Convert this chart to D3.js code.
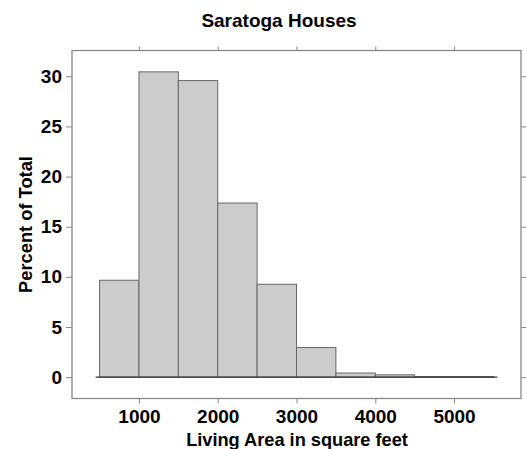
<!DOCTYPE html>
<html>
<head>
<meta charset="utf-8">
<script src="https://cdn.jsdelivr.net/npm/d3@7"></script>
<style>
  body { margin: 0; background: #fff; }
  svg text { font-family: "Liberation Sans", Arial, sans-serif; font-weight: bold; fill: #000; }
</style>
</head>
<body>
<div id="chart"></div>
<script>
const binStarts = [500, 1000, 1500, 2000, 2500, 3000, 3500, 4000, 4500, 5000];
const binWidth = 500;
const percents = [9.66, 30.44, 29.57, 17.36, 9.26, 2.95, 0.41, 0.23, 0.06, 0.06];
const xTicks = [1000, 2000, 3000, 4000, 5000];
const yTicks = [0, 5, 10, 15, 20, 25, 30];

const width = 527;
const height = 449;
const panelLeft = 72, panelRight = 521, panelTop = 50.5, panelBottom = 398.5;

const svg = d3.select('#chart')
    .append('svg')
    .attr('width', width)
    .attr('height', height);

// lattice pads the range by 7% on each side
const xScale = d3.scaleLinear().domain([150, 5850]).range([panelLeft, panelRight]);
const yMax = d3.max(percents);
const yScale = d3.scaleLinear().domain([-0.07 * yMax, yMax * 1.07]).range([panelBottom, panelTop]);

// bars
svg.selectAll('.bar')
    .data(binStarts)
    .enter()
    .append('rect')
    .attr('class', 'bar')
    .attr('x', d => xScale(d))
    .attr('y', (d, i) => yScale(percents[i]))
    .attr('width', d => xScale(d + binWidth) - xScale(d))
    .attr('height', (d, i) => yScale(0) - yScale(percents[i]))
    .attr('fill', '#cccccc')
    .attr('stroke', '#666')
    .attr('stroke-width', 1);

// baseline
svg.append('line')
    .attr('x1', xScale(450)).attr('x2', xScale(5550))
    .attr('y1', yScale(0)).attr('y2', yScale(0))
    .attr('stroke', '#333')
    .attr('stroke-width', 1.2);

// axes on all four sides, labels only bottom and left
const xBottom = d3.axisBottom(xScale).tickValues(xTicks).tickSize(5).tickPadding(6).tickFormat(d3.format('d'));
const xTop = d3.axisTop(xScale).tickValues(xTicks).tickSize(4).tickFormat('');
const yLeft = d3.axisLeft(yScale).tickValues(yTicks).tickSize(6).tickPadding(4);
const yRight = d3.axisRight(yScale).tickValues(yTicks).tickSize(5).tickFormat('');

svg.append('g').attr('transform', `translate(0, ${panelBottom})`).call(xBottom);
svg.append('g').attr('transform', `translate(0, ${panelTop})`).call(xTop);
svg.append('g').attr('transform', `translate(${panelLeft}, 0)`).call(yLeft);
svg.append('g').attr('transform', `translate(${panelRight}, 0)`).call(yRight);

svg.selectAll('.domain').remove();
svg.selectAll('.tick line').attr('stroke', '#888');
svg.selectAll('.tick text').style('font-size', '19px');

// panel box
svg.append('rect')
    .attr('x', panelLeft).attr('y', panelTop)
    .attr('width', panelRight - panelLeft).attr('height', panelBottom - panelTop)
    .attr('fill', 'none')
    .attr('stroke', '#888')
    .attr('stroke-width', 1.3);

svg.append('text')
    .attr('x', 279)
    .attr('y', 27)
    .attr('text-anchor', 'middle')
    .style('font-size', '19px')
    .text('Saratoga Houses');

svg.append('text')
    .attr('x', 297)
    .attr('y', 446)
    .attr('text-anchor', 'middle')
    .style('font-size', '18.2px')
    .text('Living Area in square feet');

svg.append('text')
    .attr('transform', `translate(32, ${(panelTop + panelBottom) / 2}) rotate(-90)`)
    .attr('text-anchor', 'middle')
    .style('font-size', '18.3px')
    .text('Percent of Total');
</script>
</body>
</html>
